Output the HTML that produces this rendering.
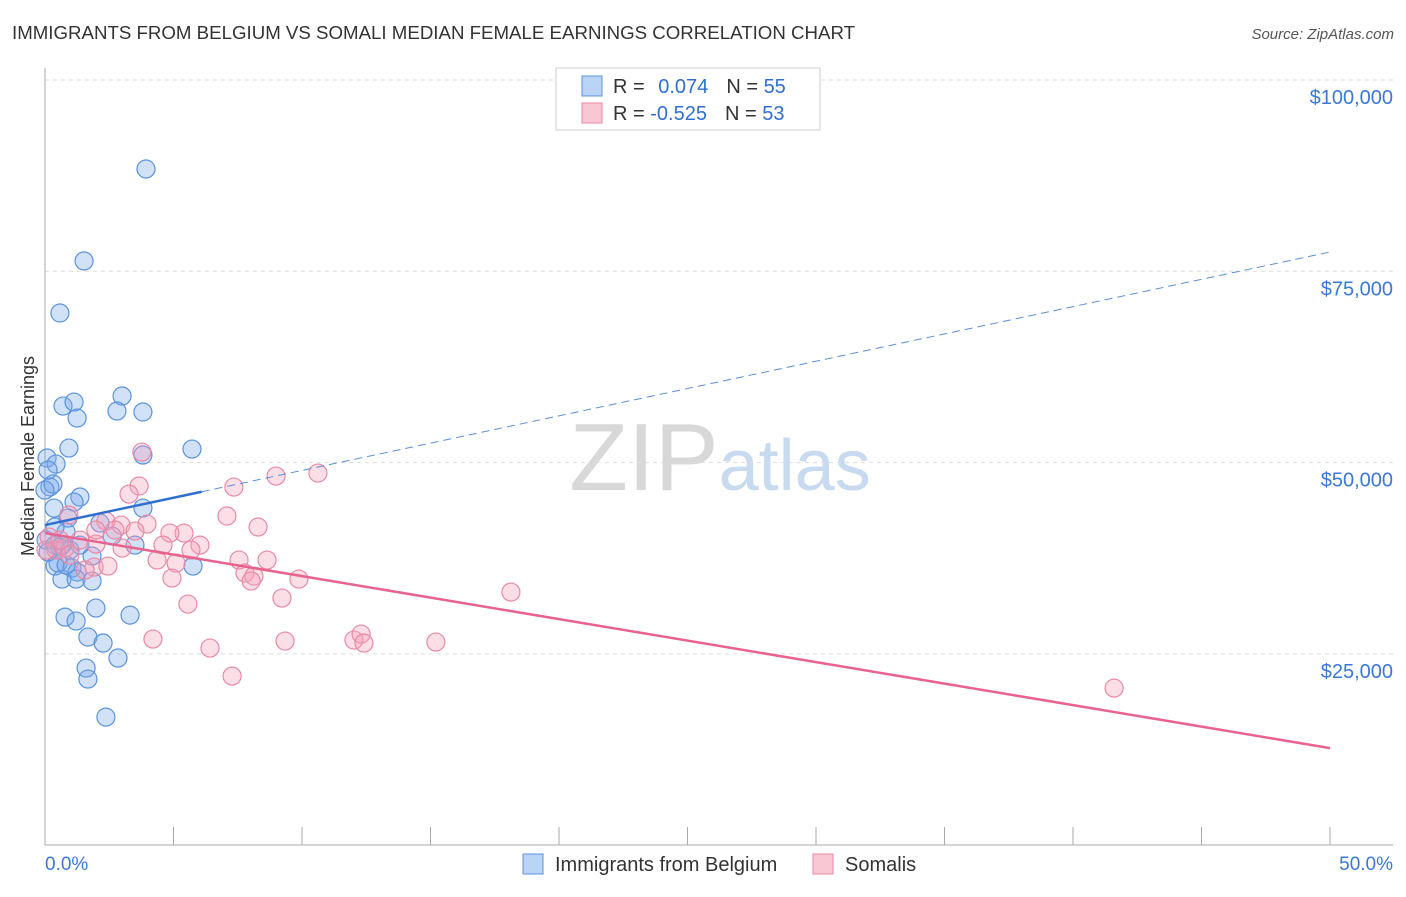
<!DOCTYPE html>
<html><head><meta charset="utf-8"><style>
body{margin:0;background:#fff;font-family:"Liberation Sans",sans-serif}
svg text{font-family:"Liberation Sans",sans-serif}
</style></head><body>
<svg id="chart" width="1406" height="892" xmlns="http://www.w3.org/2000/svg">
<text x="12" y="39" font-size="18" fill="#333" textLength="843" lengthAdjust="spacingAndGlyphs">IMMIGRANTS FROM BELGIUM VS SOMALI MEDIAN FEMALE EARNINGS CORRELATION CHART</text>
<text x="1394" y="39" font-size="15" fill="#555" text-anchor="end" font-style="italic">Source: ZipAtlas.com</text>
<text x="720" y="490" font-size="96" text-anchor="middle" fill="#ddd" font-family="Liberation Serif"><tspan fill="#d8d8d8">ZIP</tspan><tspan fill="#c8daf0" font-family="Liberation Sans" font-size="72">atlas</tspan></text>
<g id="grid"></g><g id="axes"></g><g id="marks"></g>
<text transform="translate(34,456) rotate(-90)" font-size="18" fill="#333" text-anchor="middle">Median Female Earnings</text>
<g>
<rect x="556" y="68" width="264" height="62" fill="#fff" stroke="#ccc"/>
<rect x="582" y="76" width="20" height="20" fill="#b9d4f5" stroke="#5b93dd"/>
<rect x="582" y="103" width="20" height="20" fill="#f9c6d4" stroke="#e88aa6"/>
<text x="613" y="93" font-size="20" fill="#333">R = <tspan fill="#2f6fd0" dx="8">0.074</tspan><tspan dx="18">N = </tspan><tspan fill="#2f6fd0">55</tspan></text>
<text x="613" y="120" font-size="20" fill="#333">R = <tspan fill="#2f6fd0">-0.525</tspan><tspan dx="18">N = </tspan><tspan fill="#2f6fd0">53</tspan></text>
</g>
<g>
<rect x="523" y="854" width="20" height="20" fill="#b9d4f5" stroke="#5b93dd"/>
<text x="555" y="871" font-size="20" fill="#333">Immigrants from Belgium</text>
<rect x="813" y="854" width="20" height="20" fill="#f9c6d4" stroke="#e88aa6"/>
<text x="845" y="871" font-size="20" fill="#333">Somalis</text>
</g>
</svg>
<script>
const yTicks=[25000,50000,75000,100000];
const yTickLabels=["$25,000","$50,000","$75,000","$100,000"];
const xTicks=[0,5,10,15,20,25,30,35,40,45,50];
const blueX=[3.93,1.52,0.58,3.00,0.70,1.13,2.80,3.81,1.25,0.93,5.72,3.81,0.08,0.43,0.19,0.31,1.36,1.13,3.81,0.35,0.89,2.14,2.61,0.82,0.04,0.39,0.58,0.97,1.83,3.50,0.51,1.05,1.25,0.39,0.66,1.21,1.83,5.76,1.98,3.31,0.78,1.21,1.67,2.26,2.84,1.60,1.67,2.37,0.0,0.12,0.66,0.39,1.36,0.82,0.12];
const blueY=[88370,76350,69550,58700,57390,57910,56740,56610,55820,51900,51770,50990,50600,49810,46810,47200,45500,44840,44060,44060,42750,42100,40400,40920,39880,39220,38960,38570,37790,39220,36870,36220,35700,36480,34780,34780,34520,36480,30990,30070,29810,29290,27200,26420,24460,23150,21710,16740,46410,49020,39220,41580,39220,36610,38310];
const pinkX=[3.77,10.62,8.99,7.35,3.66,3.27,0.93,7.08,2.37,3.97,8.29,2.96,5.41,3.50,2.72,4.86,0.16,1.36,4.59,6.03,1.98,5.68,0.78,0.43,0.97,4.36,7.55,8.64,5.10,1.91,2.45,7.78,8.13,4.94,9.88,8.02,18.13,9.22,5.56,4.20,12.02,12.30,12.41,9.34,15.21,6.42,7.28,41.60,0.04,1.56,0.58,3.00,1.98];
const pinkY=[51380,48630,48240,46800,46940,45890,43150,43020,42360,41970,41580,41840,40790,41050,41190,40790,40270,39880,39220,39220,39350,38570,38830,38570,37920,37260,37260,37260,36870,36350,36480,35570,35170,34910,34780,34520,33080,32300,31510,26940,26810,27590,26420,26680,26550,25760,22100,20530,38570,35960,39880,38830,41190];
const blueTrend=[41840,77520], blueSolidEnd=6.1;
const pinkTrend=[40790,12690];
const NS="http://www.w3.org/2000/svg";
const X=p=>45+p/50*1285, Y=v=>80+(100000-v)/25000*191.3;
function mk(t,a,parent){const e=document.createElementNS(NS,t);for(const k in a)e.setAttribute(k,a[k]);document.getElementById(parent).appendChild(e);return e;}
yTicks.forEach((t,i)=>{
 const g=mk('line',{x1:45,x2:1393,y1:Y(t),y2:Y(t),stroke:'#ddd','stroke-dasharray':'4,4'},'grid');
 
 
 const l=mk('text',{x:1393,y:Y(t)+24,'font-size':20,fill:'#3b78d8','text-anchor':'end'},'axes');
 l.textContent=yTickLabels[i];
 
 
});
const ax=mk('line',{x1:45,x2:45,y1:68,y2:845,stroke:'#aaa'},'axes');


const bx=mk('line',{x1:45,x2:1393,y1:845,y2:845,stroke:'#aaa'},'axes');


xTicks.forEach(t=>{const e=mk('line',{x1:X(t),x2:X(t),y1:827,y2:845,stroke:'#aaa'},'axes');
 
 });
[[0,'0.0%','start',45],[50,'50.0%','end',1393]].forEach(d=>{const e=mk('text',{x:d[3],y:870,'font-size':19,fill:'#3b78d8','text-anchor':d[2]},'axes');e.textContent=d[1];
 
 });
blueX.forEach((x,i)=>{const c=mk('circle',{cx:X(x),cy:Y(blueY[i]),r:9,fill:'rgba(120,170,235,0.35)',stroke:'#5b93dd','stroke-width':1.2},'marks');
 
 });
pinkX.forEach((x,i)=>{const c=mk('circle',{cx:X(x),cy:Y(pinkY[i]),r:9,fill:'rgba(245,160,185,0.35)',stroke:'#e88aa6','stroke-width':1.2},'marks');
 
 });
const bv=p=>blueTrend[0]+(blueTrend[1]-blueTrend[0])*p/50;
const b1=mk('line',{x1:X(0),y1:Y(bv(0)),x2:X(blueSolidEnd),y2:Y(bv(blueSolidEnd)),stroke:'#2f6fd0','stroke-width':2.5},'marks');


const b2=mk('line',{x1:X(blueSolidEnd),y1:Y(bv(blueSolidEnd)),x2:X(50),y2:Y(bv(50)),stroke:'#5b8fd8','stroke-width':1,'stroke-dasharray':'8,5'},'marks');


const p1=mk('line',{x1:X(0),y1:Y(pinkTrend[0]),x2:X(50),y2:Y(pinkTrend[1]),stroke:'#e8648e','stroke-width':2.5},'marks');


</script>
</body></html>
